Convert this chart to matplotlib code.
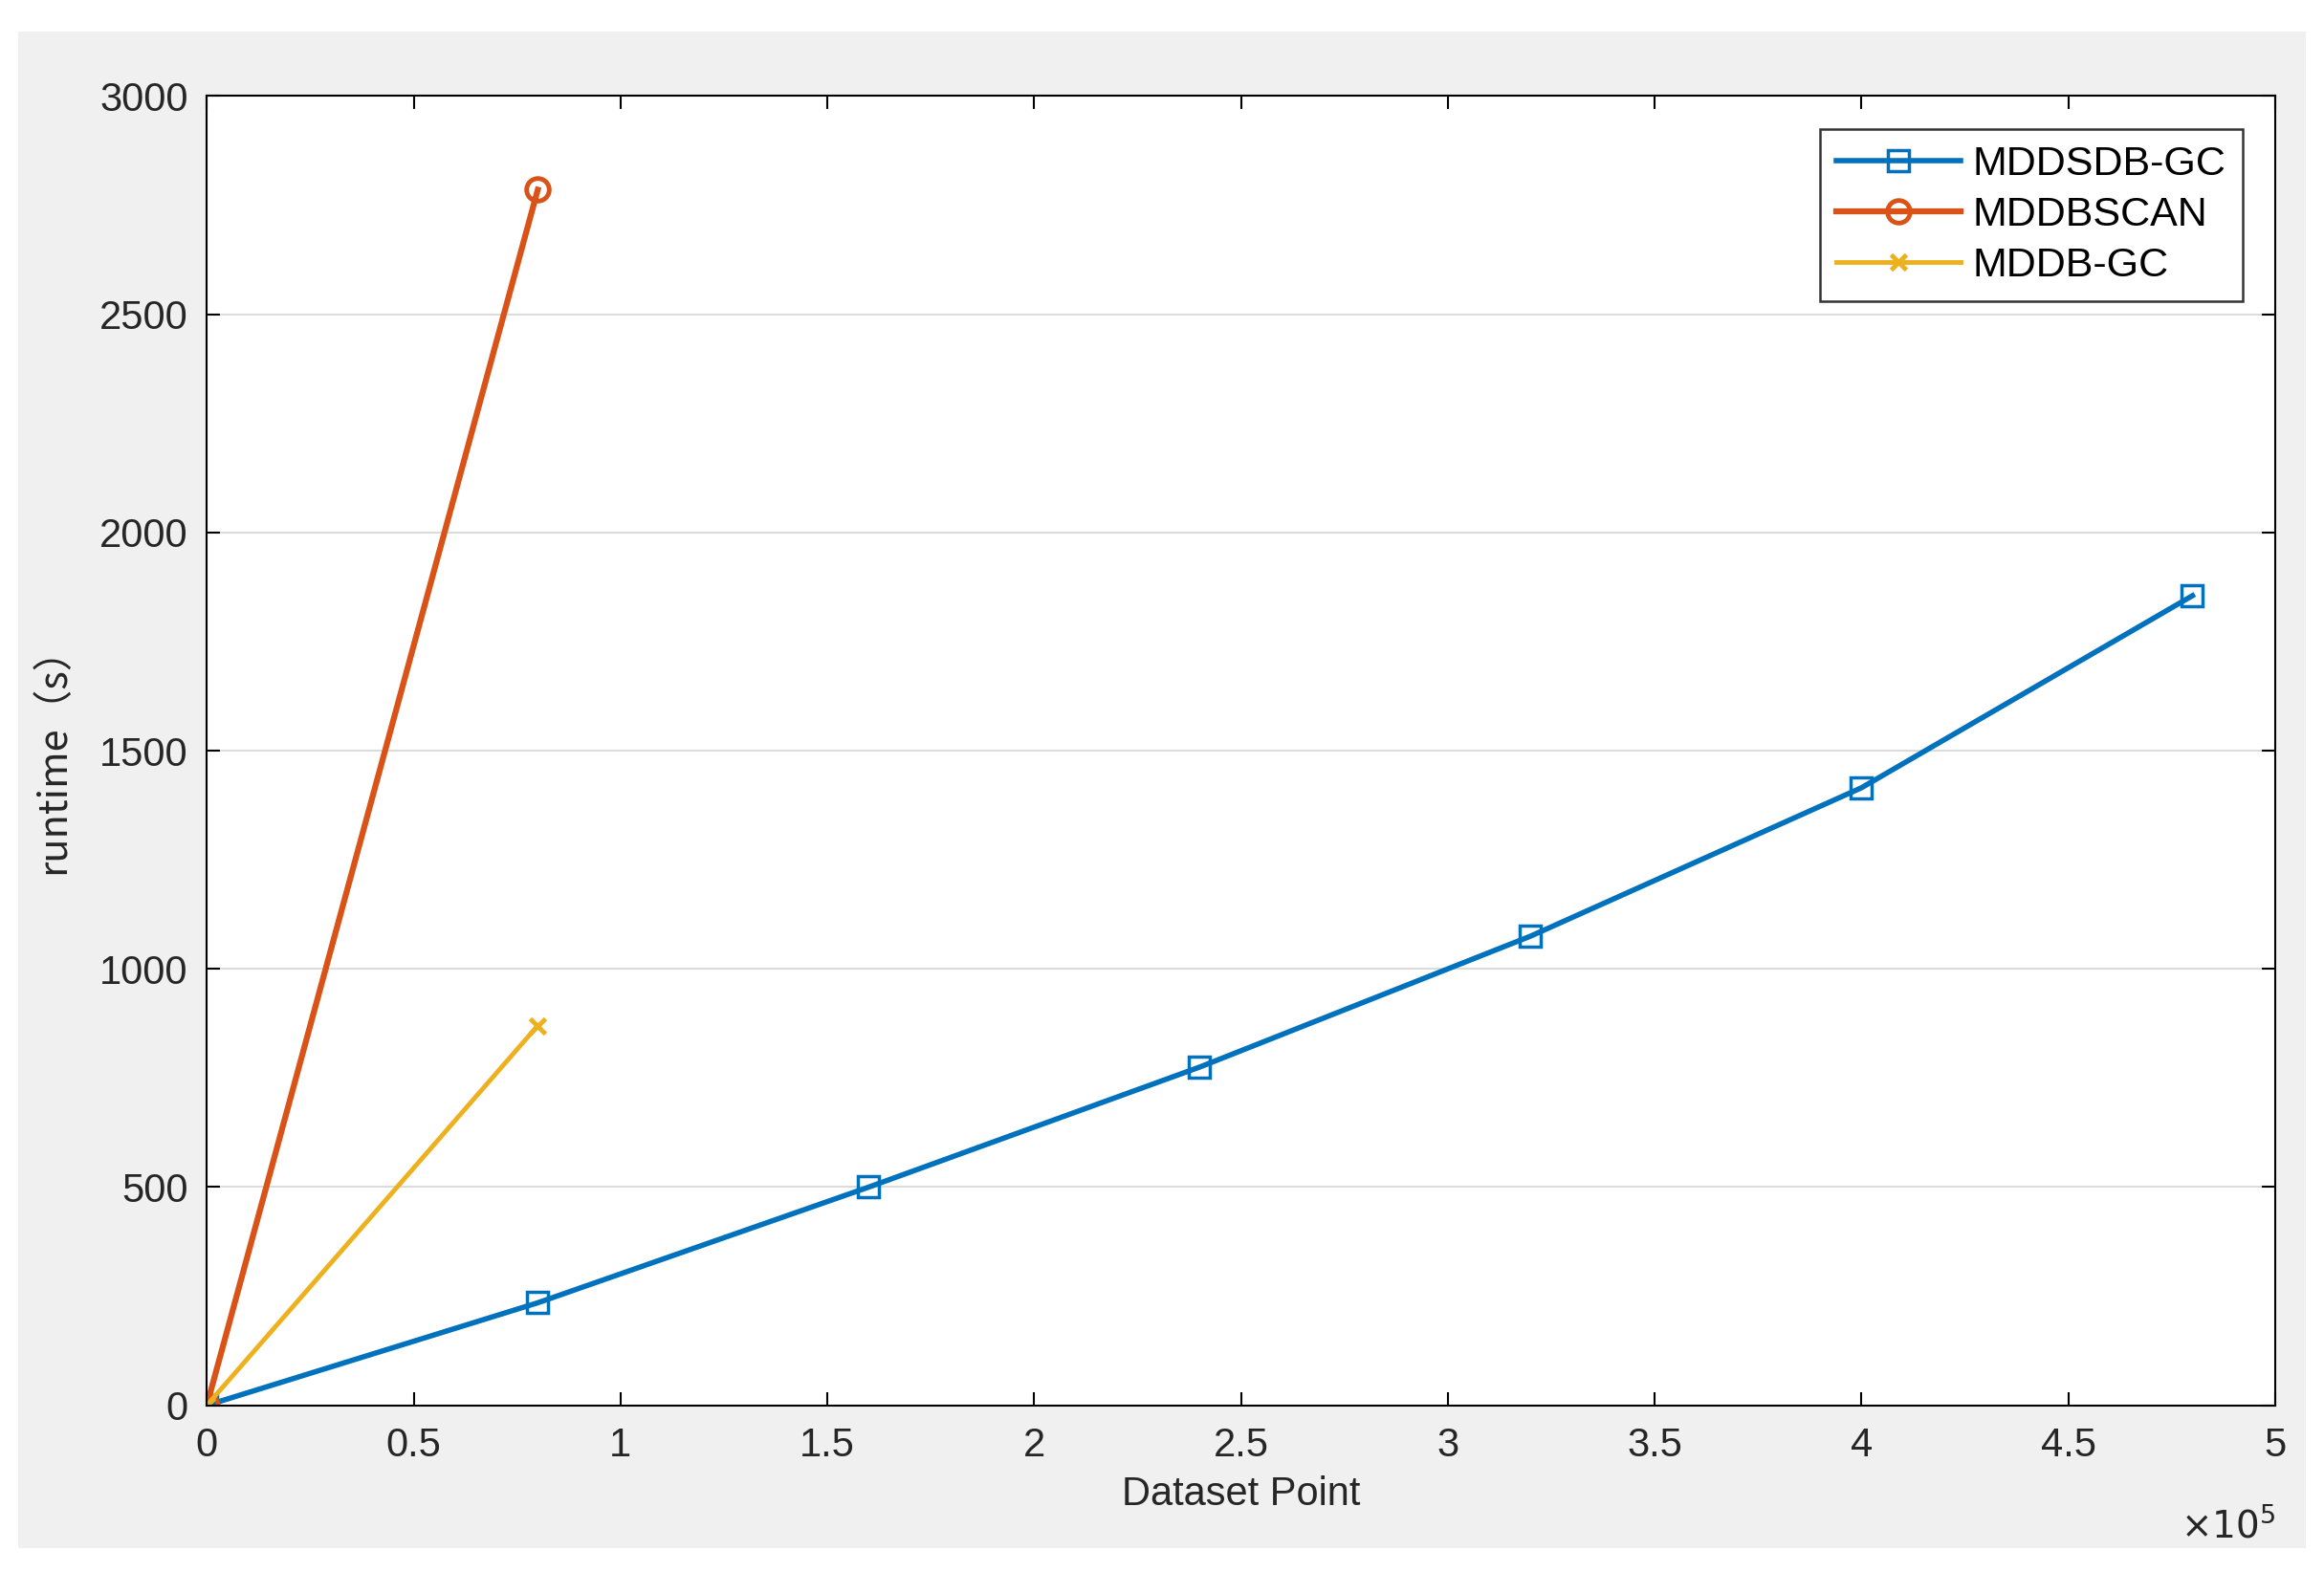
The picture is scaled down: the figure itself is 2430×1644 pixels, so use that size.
import numpy as np
import matplotlib.pyplot as plt
from matplotlib.patches import Rectangle

# data (x in units of 1e5)
x_sdb = [0, 0.8, 1.6, 2.4, 3.2, 4.0, 4.8]
y_sdb = [0, 235, 500, 775, 1075, 1415, 1855]
x_scan = [0, 0.8]
y_scan = [0, 2785]
x_gc = [0, 0.8]
y_gc = [0, 870]

plt.rcParams['font.family'] = ['Liberation Sans', 'DejaVu Sans']

fig = plt.figure(figsize=(24.3, 16.44), dpi=100)
fig.patches.append(Rectangle((0.008, 0.015), 0.984, 0.965, transform=fig.transFigure,
                             facecolor='#f0f0f0', edgecolor='none', zorder=-10))
ax = fig.add_axes([0.089, 0.106, 0.89, 0.833])

ax.plot(x_sdb, y_sdb, color='#0072BD', lw=4, marker='s', ms=16, mfc='none', mew=2.5, label='MDDSDB-GC')
ax.plot(x_scan, y_scan, color='#D95319', lw=4.5, marker='o', ms=17, mfc='none', mew=3.5, label='MDDBSCAN')
ax.plot(x_gc, y_gc, color='#EDB120', lw=3.5, marker='x', ms=12, mew=3.5, label='MDDB-GC')

ax.set_xlim(0, 5)
ax.set_ylim(0, 3000)
ax.set_xticks(np.arange(0, 5.01, 0.5))
ax.set_xticklabels(['0', '0.5', '1', '1.5', '2', '2.5', '3', '3.5', '4', '4.5', '5'])
ax.set_yticks(np.arange(0, 3001, 500))
ax.yaxis.grid(True, color='#dcdcdc', lw=1.5)
ax.set_axisbelow(True)
ax.tick_params(direction='in', top=True, right=True, length=10, width=1.5,
               labelsize=30, labelcolor='#262626')
ax.tick_params(axis='x', pad=16)
ax.tick_params(axis='y', pad=14)
for s in ax.spines.values():
    s.set_linewidth(1.5)
ax.set_xlabel('Dataset Point', fontsize=30, color='#262626', labelpad=8)
ax.set_ylabel('runtime\uff08s\uff09', fontsize=30, color='#262626', labelpad=20,
              family=['Noto Sans CJK SC', 'DejaVu Sans'])
ax.text(1.0, -0.078, r'$\times10^5$', transform=ax.transAxes, ha='right', va='top',
        fontsize=28, color='#262626')

leg = ax.legend(loc='upper right', fontsize=31, fancybox=False, edgecolor='black',
                handlelength=3, handletextpad=0.3, borderaxespad=0.8, labelspacing=0.3)
leg.get_frame().set_linewidth(1.8)

fig.savefig('out.png', dpi=100, facecolor='white')
